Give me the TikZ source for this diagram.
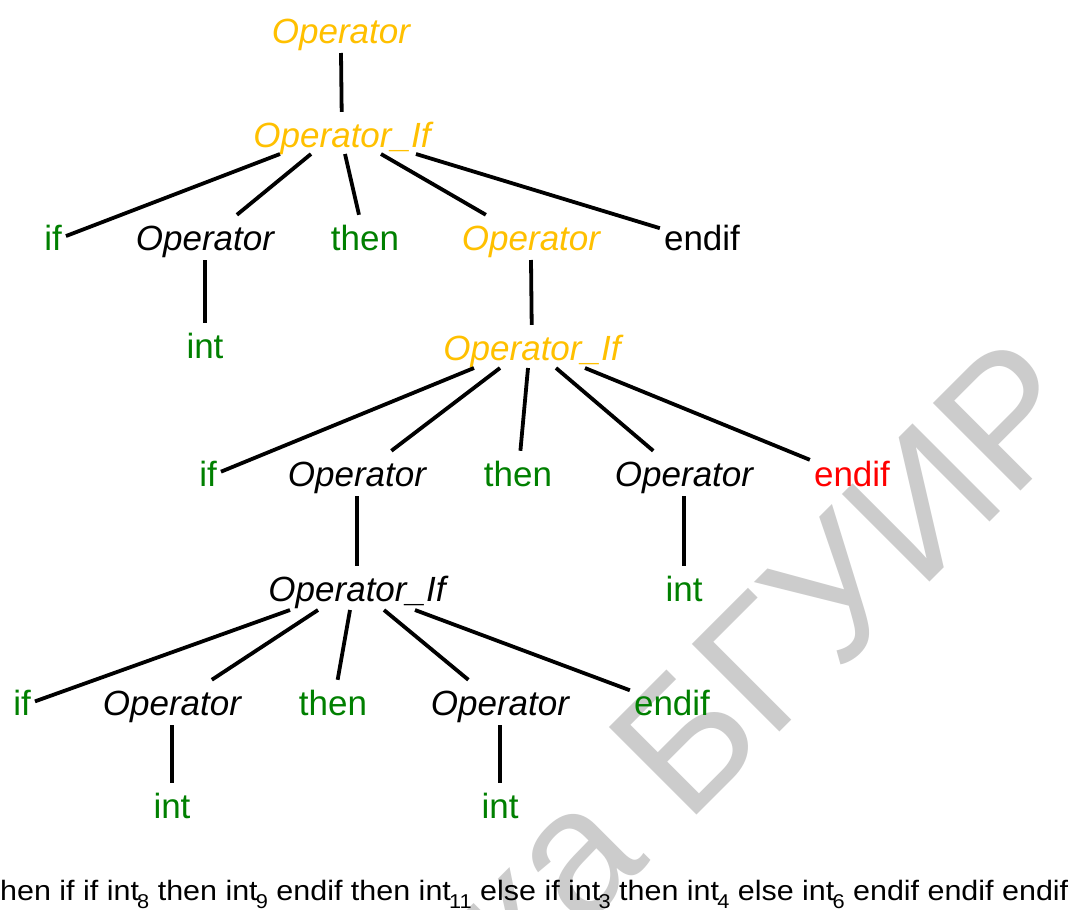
\documentclass[tikz,border=0pt]{standalone}
\usepackage{fontspec}
\setmainfont{Liberation Sans}
\usetikzlibrary{calc}
\definecolor{gold}{RGB}{255,192,0}
\definecolor{kwgreen}{RGB}{0,128,0}
\definecolor{kwred}{RGB}{255,0,0}
\definecolor{wmgray}{RGB}{204,204,204}
% subscript index after a token in the source line
\newcommand\tokidx[1]{\kern-0.06em\raisebox{-0.3em}{\fontsize{20}{20}\selectfont #1}}

\begin{document}
\begin{tikzpicture}[x=1pt,y=-1pt,
  lbl/.style={font=\fontsize{35}{35}\selectfont, text height=25pt, text depth=7pt,
              inner xsep=4pt, inner ysep=10pt, anchor=base},
  nt/.style={lbl, font=\fontsize{35}{35}\selectfont\itshape},
  ntgold/.style={nt, text=gold},
  kw/.style={lbl, text=kwgreen},
  kwblack/.style={lbl},
  kwend/.style={lbl, text=kwred},
  link/.style={line width=3.8pt},
  wm/.style={rotate=45, inner sep=0pt, text=wmgray, font=\fontsize{180}{180}\selectfont}]

\useasboundingbox (0,0) rectangle (1071,910);
\fill[white] (0,0) rectangle (1071,910);
\clip (0,0) rectangle (1071,910);

% watermark
\node[wm, anchor=base west] (wmB) at (686,826) {БГУИР};
\node[wm, anchor=base east] (wmA) at ($(wmB.base west)+(-35,35)$) {Библиотека};

% level 0 and 1
\node[ntgold] (op0) at (341,43) {Operator};
\node[ntgold] (if1) at (342,147) {Operator\_If};
\node[kw] (a1) at (53,250) {if};
\node[nt] (a2) at (205,250) {Operator};
\node[kw] (a3) at (365,250) {then};
\node[ntgold] (a4) at (531,250) {Operator};
\node[kwblack] (a5) at (702,250) {endif};
\node[kw] (a2i) at (205,358) {int};

% level 2
\node[ntgold] (if2) at (532,360) {Operator\_If};
\node[kw] (b1) at (208,486) {if};
\node[nt] (b2) at (357,486) {Operator};
\node[kw] (b3) at (518,486) {then};
\node[nt] (b4) at (684,486) {Operator};
\node[kwend] (b5) at (852,486) {endif};
\node[kw] (b4i) at (684,601) {int};

% level 3
\node[nt] (if3) at (357,601) {Operator\_If};
\node[kw] (c1) at (22,715) {if};
\node[nt] (c2) at (172,715) {Operator};
\node[kw] (c3) at (333,715) {then};
\node[nt] (c4) at (500,715) {Operator};
\node[kw] (c5) at (672,715) {endif};
\node[kw] (c2i) at (172,818) {int};
\node[kw] (c4i) at (500,818) {int};

% single-child links
\foreach \p/\c in {op0/if1, a2/a2i, a4/if2, b2/if3, b4/b4i, c2/c2i, c4/c4i}
  \draw[link] ($(\p.base)+(0,10)$) -- (\c);

% fan-out links of each Operator_If
\foreach \c/\dx in {a1/-62, a2/-31, a3/3, a4/39, a5/74}
  \draw[link] ($(if1.base)+(\dx,7)$) -- (\c);
\foreach \c/\dx in {b1/-58, b2/-32, b3/-4, b4/24, b5/53}
  \draw[link] ($(if2.base)+(\dx,8)$) -- (\c);
\foreach \c/\dx in {c1/-67, c2/-39, c3/-7, c4/27, c5/58}
  \draw[link] ($(if3.base)+(\dx,9)$) -- (\c);

% source line
\node[anchor=base west, inner sep=0pt] (src) at (0,900)
  {\resizebox{1068pt}{\height}{\fontsize{28}{28}\selectfont hen if if int\tokidx{8} then int\tokidx{9} endif then int\tokidx{11} else if int\tokidx{3} then int\tokidx{4} else int\tokidx{6} endif endif endif}};
\end{tikzpicture}
\end{document}
